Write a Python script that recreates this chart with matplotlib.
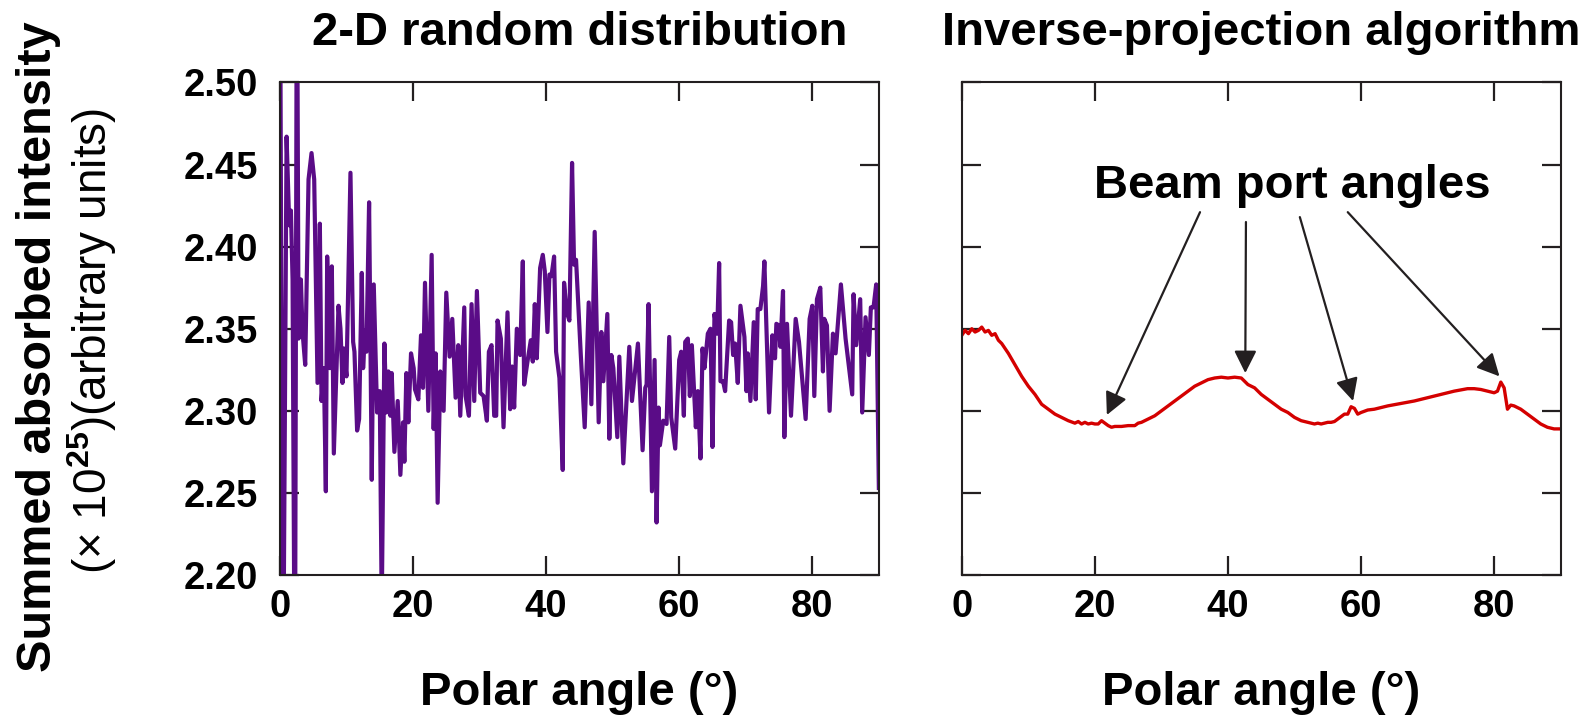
import numpy as np
import matplotlib
matplotlib.use("Agg")
import matplotlib.pyplot as plt

plt.rcParams['font.family'] = ['Liberation Sans', 'DejaVu Sans']
plt.rcParams['font.weight'] = 'bold'
plt.rcParams['mathtext.fontset'] = 'custom'
plt.rcParams['mathtext.bf'] = 'Liberation Sans:bold'
plt.rcParams['mathtext.rm'] = 'Liberation Sans'

# 2-D random distribution (polar angle in degrees, summed intensity x1e25)
rand_angle = [
    0.0, 0.45, 1.0, 1.4, 1.65, 1.9, 2.25, 2.55, 2.8, 3.15,
    3.4, 3.8, 4.3, 4.75, 5.15, 5.65, 6.0, 6.25, 6.6, 6.9,
    7.1, 7.5, 7.8, 8.1, 8.8, 9.1, 9.4, 9.6, 10.0, 10.6,
    11.0, 11.2, 11.6, 11.9, 12.3, 12.5, 12.8, 13.0, 13.4, 13.8,
    14.1, 14.6, 15.0, 15.3, 15.7, 16.0, 16.3, 16.6, 16.8, 17.2,
    17.7, 18.1, 18.5, 18.7, 19.0, 19.3, 19.7, 20.1, 20.3, 20.8,
    21.2, 21.5, 21.8, 22.3, 22.8, 23.1, 23.4, 23.7, 24.1, 24.6,
    25.0, 25.5, 25.9, 26.4, 26.8, 27.1, 27.7, 27.9, 28.4, 28.8,
    29.2, 29.6, 30.1, 30.6, 31.1, 31.4, 31.8, 32.2, 32.5, 32.7,
    33.2, 33.6, 34.2, 34.6, 34.9, 35.2, 35.6, 36.1, 36.5, 36.7,
    37.2, 37.7, 38.0, 38.3, 38.6, 39.1, 39.5, 39.8, 40.2, 40.5,
    40.8, 41.2, 41.5, 42.0, 42.5, 42.7, 43.1, 43.5, 43.9, 44.2,
    44.5, 45.2, 45.8, 46.4, 46.8, 47.3, 47.9, 48.3, 48.6, 49.2,
    49.5, 49.8, 50.1, 50.7, 51.0, 51.6, 52.5, 52.9, 53.8, 54.5,
    54.9, 55.1, 55.4, 55.9, 56.3, 56.6, 56.9, 57.1, 57.6, 58.1,
    58.5, 58.8, 59.4, 60.0, 60.3, 60.7, 60.9, 61.3, 61.6, 61.9,
    62.5, 62.8, 63.2, 63.5, 63.8, 64.3, 64.7, 65.0, 65.3, 65.7,
    66.0, 66.2, 66.6, 66.9, 67.5, 67.8, 68.1, 68.4, 68.8, 69.2,
    69.8, 70.1, 70.3, 70.7, 71.2, 71.5, 71.8, 72.2, 72.6, 72.8,
    73.5, 74.0, 74.4, 74.6, 75.0, 75.2, 75.6, 75.8, 76.2, 76.8,
    77.5, 78.0, 79.0, 79.6, 80.0, 80.3, 80.7, 81.2, 81.6, 81.8,
    82.2, 82.6, 83.1, 83.5, 84.3, 85.0, 86.0, 86.2, 86.6, 87.2,
    87.5, 88.0, 88.5, 88.8, 89.2, 89.6, 90.0,
]
rand_value = [
    2.600, 2.100, 2.467, 2.413, 2.422, 2.380, 2.100, 2.600, 2.344, 2.380,
    2.348, 2.328, 2.441, 2.457, 2.441, 2.317, 2.414, 2.306, 2.326, 2.251,
    2.394, 2.326, 2.388, 2.274, 2.364, 2.350, 2.317, 2.338, 2.321, 2.445,
    2.342, 2.336, 2.288, 2.295, 2.384, 2.326, 2.349, 2.336, 2.427, 2.258,
    2.377, 2.299, 2.312, 2.180, 2.341, 2.299, 2.324, 2.297, 2.323, 2.275,
    2.306, 2.261, 2.293, 2.269, 2.323, 2.293, 2.335, 2.326, 2.313, 2.307,
    2.346, 2.314, 2.378, 2.300, 2.395, 2.289, 2.335, 2.244, 2.324, 2.300,
    2.372, 2.333, 2.356, 2.308, 2.340, 2.297, 2.363, 2.309, 2.297, 2.365,
    2.306, 2.373, 2.311, 2.309, 2.294, 2.336, 2.340, 2.297, 2.297, 2.355,
    2.344, 2.290, 2.360, 2.301, 2.327, 2.302, 2.350, 2.334, 2.391, 2.316,
    2.330, 2.343, 2.330, 2.365, 2.332, 2.387, 2.395, 2.385, 2.348, 2.383,
    2.382, 2.394, 2.336, 2.320, 2.264, 2.378, 2.360, 2.355, 2.451, 2.389,
    2.392, 2.335, 2.290, 2.366, 2.304, 2.409, 2.293, 2.348, 2.318, 2.359,
    2.283, 2.334, 2.326, 2.284, 2.333, 2.268, 2.339, 2.306, 2.341, 2.276,
    2.314, 2.316, 2.365, 2.251, 2.331, 2.232, 2.302, 2.279, 2.294, 2.292,
    2.345, 2.296, 2.277, 2.331, 2.336, 2.297, 2.342, 2.344, 2.309, 2.340,
    2.290, 2.312, 2.271, 2.338, 2.326, 2.347, 2.350, 2.278, 2.359, 2.347,
    2.390, 2.318, 2.318, 2.312, 2.355, 2.354, 2.334, 2.341, 2.317, 2.364,
    2.345, 2.312, 2.335, 2.306, 2.354, 2.307, 2.362, 2.362, 2.376, 2.391,
    2.299, 2.346, 2.332, 2.353, 2.352, 2.339, 2.373, 2.284, 2.353, 2.297,
    2.356, 2.342, 2.295, 2.356, 2.364, 2.309, 2.368, 2.375, 2.324, 2.356,
    2.352, 2.300, 2.347, 2.335, 2.377, 2.344, 2.310, 2.371, 2.340, 2.368,
    2.299, 2.357, 2.334, 2.363, 2.363, 2.377, 2.253,
]

# inverse-projection algorithm
inv_angle = [
    0, 0.5, 1, 1.5, 2, 2.5, 3, 3.5, 4, 4.5,
    5, 5.5, 6, 7, 8, 9, 10, 11, 12, 13,
    14, 15, 16, 17, 17.5, 18, 18.5, 19, 19.5, 20,
    20.5, 21, 21.5, 22, 22.5, 23, 24, 25, 26, 26.5,
    27, 28, 29, 30, 31, 32, 33, 34, 35, 36,
    37, 38, 39, 40, 41, 42, 42.5, 43, 44, 45,
    46, 47, 48, 49, 50, 51, 52, 53, 53.5, 54,
    54.5, 55, 55.5, 56, 57, 57.5, 58, 58.5, 59, 59.5,
    60, 61, 62, 64, 66, 68, 70, 72, 74, 76,
    77, 78, 79, 80, 80.5, 81, 81.5, 82, 82.5, 83,
    84, 85, 86, 87, 88, 89, 90,
]
inv_value = [
    2.346, 2.349, 2.347, 2.350, 2.348, 2.349, 2.351, 2.348, 2.349, 2.346,
    2.347, 2.343, 2.341, 2.335, 2.328, 2.321, 2.315, 2.310, 2.304, 2.301,
    2.298, 2.296, 2.294, 2.2925, 2.2935, 2.292, 2.293, 2.292, 2.2925, 2.292,
    2.292, 2.294, 2.2925, 2.291, 2.290, 2.2905, 2.2905, 2.291, 2.291, 2.2925,
    2.293, 2.295, 2.297, 2.300, 2.303, 2.306, 2.309, 2.312, 2.315, 2.317,
    2.319, 2.320, 2.3205, 2.320, 2.3205, 2.320, 2.318, 2.316, 2.314, 2.310,
    2.307, 2.304, 2.301, 2.299, 2.296, 2.294, 2.293, 2.292, 2.2925, 2.292,
    2.2925, 2.293, 2.293, 2.2935, 2.2965, 2.298, 2.298, 2.3025, 2.3015, 2.298,
    2.299, 2.3005, 2.301, 2.303, 2.3045, 2.306, 2.308, 2.310, 2.312, 2.3135,
    2.3135, 2.313, 2.312, 2.311, 2.312, 2.3175, 2.314, 2.301, 2.3035, 2.303,
    2.301, 2.298, 2.295, 2.292, 2.290, 2.289, 2.289,
]

# beam port arrows: tip (angle, value) and tail (angle, value)
beam_tip_x = [21.8, 42.6, 58.8, 80.8]
beam_tip_y = [2.2975, 2.323, 2.306, 2.321]
beam_tail_x = [35.8, 42.7, 50.8, 58.0]
beam_tail_y = [2.421, 2.415, 2.418, 2.421]

ink = '#231f20'
fig = plt.figure(figsize=(15.95, 7.17), dpi=100)
ax1 = fig.add_axes([0.1755, 0.198, 0.3755, 0.687])
ax2 = fig.add_axes([0.603, 0.198, 0.3755, 0.687])

ax1.plot(rand_angle, rand_value, color='#5a0c87', lw=3.0, solid_joinstyle='round')
ax2.plot(inv_angle, inv_value, color='#d40000', lw=2.4)

for ax in (ax1, ax2):
    ax.set_xlim(0, 90)
    ax.set_ylim(2.20, 2.50)
    ax.set_xticks([0, 20, 40, 60, 80])
    ax.set_yticks([2.20, 2.25, 2.30, 2.35, 2.40, 2.45, 2.50])
    ax.tick_params(direction='in', length=14, width=1.6, color=ink,
                   top=True, right=True, labelsize=27.5, pad=10)
    ax.tick_params(axis='y', pad=16)
    for s in ax.spines.values():
        s.set_linewidth(1.5)
        s.set_color(ink)
    ax.text(0.5, -0.24, 'Polar angle (°)', transform=ax.transAxes,
            fontsize=34, fontweight='bold', ha='center', va='center')
    for lbl in ax.get_xticklabels() + ax.get_yticklabels():
        lbl.set_fontweight('bold')

ax1.yaxis.set_major_formatter(matplotlib.ticker.FormatStrFormatter('%.2f'))
ax2.tick_params(labelleft=False)

ax1.text(0.5, 1.10, '2-D random distribution', transform=ax1.transAxes,
         fontsize=34, fontweight='bold', ha='center', va='center')
ax2.text(0.5, 1.10, 'Inverse-projection algorithm', transform=ax2.transAxes,
         fontsize=34, fontweight='bold', ha='center', va='center')

fig.text(0.0243, 0.517, 'Summed absorbed intensity', rotation=90,
         ha='center', va='center', fontsize=35, fontweight='bold')
fig.text(0.0574, 0.525, '(× 10$^{25}$)(arbitrary units)', rotation=90,
         ha='center', va='center', fontsize=33, fontweight='normal')

ax2.text(49.7, 2.437, 'Beam port angles', fontsize=34, fontweight='bold',
         ha='center', va='center')
for tx, ty, sx, sy in zip(beam_tip_x, beam_tip_y, beam_tail_x, beam_tail_y):
    ax2.annotate('', xy=(tx, ty), xytext=(sx, sy),
                 arrowprops=dict(arrowstyle='-|>', color=ink, lw=1.6,
                                 mutation_scale=34, shrinkA=0, shrinkB=0))

fig.savefig('out.png', dpi=100)
